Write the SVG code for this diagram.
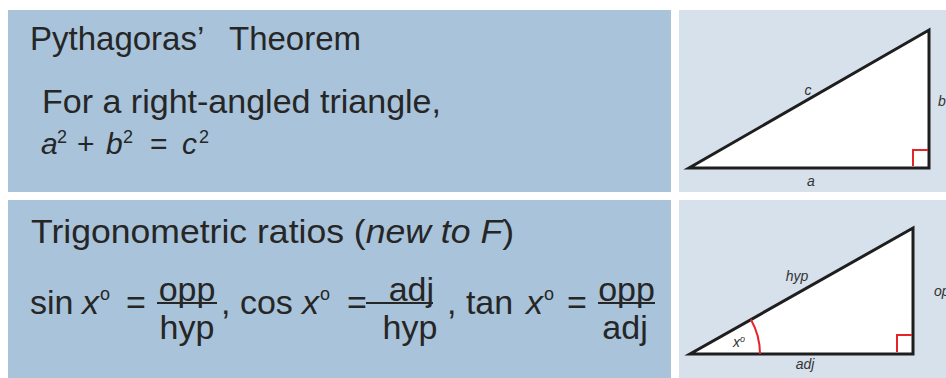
<svg xmlns="http://www.w3.org/2000/svg" width="946" height="378" viewBox="0 0 946 378">
  <style>
    .panel { fill: #a8c3da; }
    .fig { fill: #d6e1ec; }
    .t { font-family: "Liberation Sans", Arial, sans-serif; fill: #262626; }
    .i { font-style: italic; }
    .tri { fill: #ffffff; stroke: #1e1e1e; stroke-width: 3; stroke-linejoin: miter; }
    .red { fill: none; stroke: #e3242b; stroke-width: 2; }
    .bar { stroke: #262626; stroke-width: 2; }
    .lbl { font-family: "Liberation Sans", Arial, sans-serif; font-style: italic; font-size: 14px; fill: #333333; }
  </style>
  <rect width="946" height="378" fill="#ffffff"/>

  <g id="panel-pythagoras">
    <rect class="panel" x="8" y="10" width="663" height="182"/>
    <text class="t" font-size="33" y="50"><tspan x="30">Pythagoras’ </tspan><tspan x="229">Theorem</tspan></text>
    <text class="t" font-size="34" x="42" y="113" textLength="399" lengthAdjust="spacingAndGlyphs">For a right-angled triangle,</text>
    <text class="t" font-size="30" y="154"><tspan class="i" x="41">a</tspan><tspan font-size="18" x="57" y="143">2</tspan><tspan x="77" y="154">+</tspan><tspan class="i" x="106">b</tspan><tspan font-size="18" x="123" y="143">2</tspan><tspan x="150" y="154">=</tspan><tspan class="i" x="182">c</tspan><tspan font-size="18" x="199" y="143">2</tspan></text>
  </g>

  <g id="panel-trig">
    <rect class="panel" x="8" y="200" width="663" height="178"/>
    <text class="t" font-size="34" x="31" y="243" textLength="483" lengthAdjust="spacingAndGlyphs">Trigonometric ratios (<tspan class="i">new to F</tspan>)</text>
    <g class="t" font-size="34">
      <text x="30" y="314">sin <tspan class="i" x="82">x</tspan><tspan font-size="18" x="100" y="300">o</tspan><tspan x="126" y="314">=</tspan></text>
      <line class="bar" x1="157" y1="303" x2="217" y2="303"/>
      <text x="187" y="301" text-anchor="middle">opp</text>
      <text x="187" y="339" text-anchor="middle">hyp</text>
      <text x="221" y="314">, cos <tspan class="i" x="302">x</tspan><tspan font-size="18" x="320" y="300">o</tspan><tspan x="347" y="314">=</tspan></text>
      <line class="bar" x1="366" y1="303" x2="433" y2="303"/>
      <text x="434" y="301" text-anchor="end">adj</text>
      <text x="410" y="339" text-anchor="middle">hyp</text>
      <text x="447" y="314">, tan <tspan class="i" x="526">x</tspan><tspan font-size="18" x="544" y="300">o</tspan><tspan x="567" y="314">=</tspan></text>
      <line class="bar" x1="598" y1="303" x2="655" y2="303"/>
      <text x="626.5" y="301" text-anchor="middle">opp</text>
      <text x="625" y="339" text-anchor="middle">adj</text>
    </g>
  </g>

  <g id="diagram-pythagoras">
    <rect class="fig" x="679" y="10" width="267" height="182"/>
    <polygon class="tri" points="689,168 929,168 929,30"/>
    <polyline class="red" points="913,166 913,150 928,150"/>
    <text class="lbl" x="808" y="95" text-anchor="middle">c</text>
    <text class="lbl" x="938" y="106">b</text>
    <text class="lbl" x="811" y="186" text-anchor="middle">a</text>
  </g>

  <g id="diagram-trig">
    <rect class="fig" x="679" y="200" width="267" height="178"/>
    <polygon class="tri" points="690,354 913,354 913,228"/>
    <polyline class="red" points="897,352 897,335 912,335"/>
    <path class="red" d="M 750.9 319.5 A 70 70 0 0 1 760 354"/>
    <text class="lbl" font-size="13" x="733" y="347">x<tspan font-size="9" dy="-5">o</tspan></text>
    <text class="lbl" x="797" y="281" text-anchor="middle">hyp</text>
    <text class="lbl" x="934" y="296">opp</text>
    <text class="lbl" x="805" y="369" text-anchor="middle">adj</text>
  </g>
</svg>
